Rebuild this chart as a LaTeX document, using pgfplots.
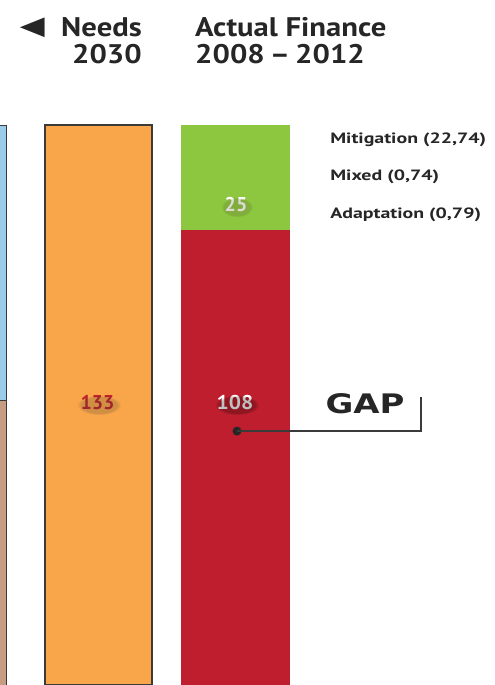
\documentclass[border=0pt]{standalone}
\usepackage{pgfplots}
\pgfplotsset{compat=1.18}
\usetikzlibrary{fadings}
\usepackage{fontspec}
\setmainfont{PT Sans}
\newfontfamily\gapfont{DejaVu Sans}
\newfontfamily\symfont{DejaVu Sans}
\definecolor{cOrange}{HTML}{F9A64A}
\definecolor{cGreen}{HTML}{8DC63F}
\definecolor{cRed}{HTML}{BE1E2D}
\definecolor{cBlue}{HTML}{9ACBEA}
\definecolor{cBrown}{HTML}{C69C82}
\definecolor{cLine}{HTML}{3A3A3A}
\pgfplotsset{
  base/.style={
    width=495bp, height=685bp, scale only axis,
    xmin=0, xmax=495, ymin=0, ymax=162.69,
    hide axis, ybar stacked, at={(0,0)}, anchor=south west,
  }
}
\begin{document}
\begin{tikzpicture}
\useasboundingbox (0,0) rectangle (495bp,685bp);
% left (cropped) bar
\begin{axis}[base]
\addplot[fill=cBrown, draw=cLine, line width=0.8bp, bar width=108] coordinates {(-48,67.7)};
\addplot[fill=cBlue, draw=cLine, line width=0.8bp, bar width=108] coordinates {(-48,65.3)};
\end{axis}
% Needs 2030
\begin{axis}[base]
\addplot[fill=cOrange, draw=cLine, line width=1.6bp, bar width=107] coordinates {(98.5,133)};
\end{axis}
% Actual finance
\begin{axis}[base]
\addplot[fill=cRed, draw=none, bar width=109] coordinates {(235.5,108)};
\addplot[fill=cGreen, draw=none, bar width=109] coordinates {(235.5,25)};
\end{axis}
% annotations
\begin{axis}[base]
\addplot[draw=none, fill=none, bar width=1] coordinates {(-10,0)};
% soft shadows behind value labels
\fill[black!70!olive, opacity=0.22, path fading=circle with fuzzy edge 20 percent] (axis cs:99,66.5) ellipse (22bp and 10bp);
\fill[black, opacity=0.25, path fading=circle with fuzzy edge 20 percent] (axis cs:237,66.5) ellipse (22bp and 10bp);
\fill[black!60!olive, opacity=0.2, path fading=circle with fuzzy edge 20 percent] (axis cs:237,113.5) ellipse (16bp and 10bp);
% value labels
\node[font=\bfseries\fontsize{20}{22}\selectfont, text=cRed] at (axis cs:97.5,67) {133};
\node[font=\bfseries\fontsize{20}{22}\selectfont, text=white, xscale=1.08] at (axis cs:235,67) {108};
\node[font=\bfseries\fontsize{20}{22}\selectfont, text=white] at (axis cs:236,114) {25};
% GAP annotation
\draw[cLine, line width=1.5bp] (axis cs:237,60.3) -- (axis cs:421,60.3) -- (axis cs:421,68.4);
\fill[black!85] (axis cs:237,60.3) circle[radius=4.5bp];
\node[font=\gapfont\bfseries\fontsize{27}{30}\selectfont, text=black!85, xscale=1.26] at (axis cs:365,66.7) {GAP};
% legend-like texts
\node[font=\bfseries\fontsize{15}{17}\selectfont, anchor=base west, text=black!85, xscale=1.33, inner sep=0pt] at (axis cs:330,128.6) {Mitigation (22,74)};
\node[font=\bfseries\fontsize{15}{17}\selectfont, anchor=base west, text=black!85, xscale=1.33, inner sep=0pt] at (axis cs:330,119.8) {Mixed (0,74)};
\node[font=\bfseries\fontsize{15}{17}\selectfont, anchor=base west, text=black!85, xscale=1.33, inner sep=0pt] at (axis cs:330,110.8) {Adaptation (0,79)};
% headers
\node[font=\bfseries\fontsize{27}{30}\selectfont, anchor=base east, text=black!85, xscale=1.14, inner sep=0pt] at (axis cs:142,154.1) {Needs};
\node[font=\bfseries\fontsize{27}{30}\selectfont, anchor=base east, text=black!85, xscale=1.14, inner sep=0pt] at (axis cs:142,147.6) {2030};
\node[font=\symfont\fontsize{26}{28}\selectfont, anchor=base east, text=black!85, xscale=1.25, inner sep=0pt] at (axis cs:45,154.6) {◀};
\node[font=\bfseries\fontsize{27}{30}\selectfont, anchor=base west, text=black!85, xscale=1.14, inner sep=0pt] at (axis cs:195,154.1) {Actual Finance};
\node[font=\bfseries\fontsize{27}{30}\selectfont, anchor=base west, text=black!85, xscale=1.14, inner sep=0pt] at (axis cs:195,147.6) {2008\,–\,2012};
\end{axis}
\end{tikzpicture}
\end{document}
